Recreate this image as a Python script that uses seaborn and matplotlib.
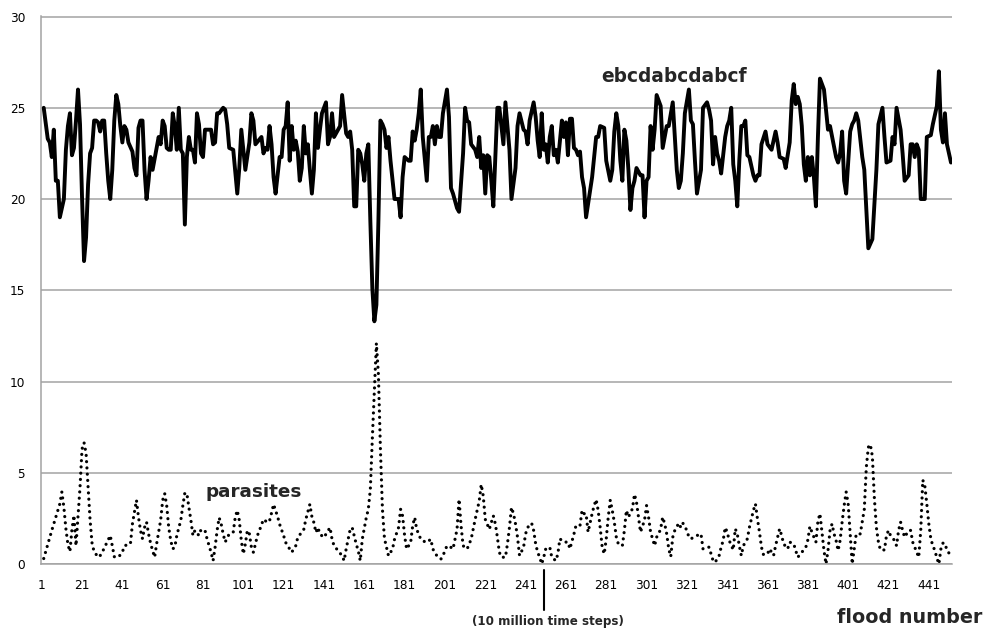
import matplotlib
matplotlib.use("Agg")
import matplotlib.pyplot as plt
import seaborn as sns
import pandas as pd
from matplotlib.transforms import blended_transform_factory

sns.set_style("white")
plt.rcParams['font.family'] = ['DejaVu Sans']

# ---------------- data: series "ebcdabcdabcf" (solid) ----------------
main_flood_a = [2, 4, 5, 6, 7, 8, 9, 10, 11, 12,
                13, 14, 15, 16, 17, 18, 19, 20, 21, 22,
                23, 24, 25, 26, 27, 28, 29, 30, 31, 32,
                33, 34, 35, 36, 37, 38, 39, 40, 41, 42,
                43, 44, 46, 47, 48, 49, 50, 51, 52, 53,
                54, 55, 56, 58, 59, 60, 61, 62, 63, 64,
                65, 66, 67, 68, 69, 70, 71, 72, 73, 74,
                75, 76, 77, 78, 79, 80, 81, 82, 84, 85,
                86, 87, 88, 89, 91, 92, 93, 94, 96, 98,
                99, 100, 101, 102, 104, 105, 106, 107]
main_value_a = [25.0, 23.3, 23.1, 22.3, 23.8, 21.0, 21.0, 19.0, 19.5, 20.0,
                22.7, 24.0, 24.7, 22.4, 22.8, 24.3, 26.0, 24.1, 20.1, 16.6,
                17.9, 20.8, 22.5, 22.8, 24.3, 24.3, 24.2, 23.7, 24.3, 24.3,
                22.5, 21.0, 20.0, 21.6, 24.3, 25.7, 25.2, 24.0, 23.1, 24.0,
                23.8, 23.1, 22.6, 21.7, 21.3, 23.9, 24.3, 24.3, 21.6, 20.0,
                21.0, 22.3, 21.6, 22.8, 23.4, 23.0, 24.3, 24.0, 22.8, 22.7,
                22.7, 24.7, 24.0, 22.7, 25.0, 22.7, 22.5, 18.6, 22.3, 23.4,
                22.7, 22.7, 22.0, 24.7, 24.1, 22.5, 22.3, 23.8, 23.8, 23.8,
                23.0, 23.1, 24.7, 24.7, 25.0, 24.9, 24.1, 22.8, 22.7, 20.3,
                21.7, 23.8, 22.7, 21.6, 23.1, 24.7, 24.3, 23.0]

main_flood_b = [110, 111, 112, 113, 114, 115, 116, 117, 119, 120,
                121, 122, 123, 124, 125, 126, 127, 128, 129, 130,
                131, 132, 133, 134, 135, 136, 137, 138, 139, 140,
                142, 143, 144, 145, 146, 148, 149, 150, 152, 153,
                154, 155, 156, 157, 158, 159, 160, 161, 162, 163,
                164, 165, 166, 167, 168, 169, 170, 171, 172, 173,
                174, 176, 178, 179, 180, 181, 183, 184, 185, 186,
                187, 188, 189, 190, 192, 193, 194, 195, 196, 197,
                198, 199, 200, 202, 203, 204, 205, 207, 208, 210,
                211, 212, 213, 214, 216, 217, 218, 219, 220, 221,
                222, 223, 224, 225, 227, 228]
main_value_b = [23.4, 22.5, 22.8, 22.7, 24.0, 23.0, 21.2, 20.3, 22.3, 22.3,
                23.8, 24.0, 25.3, 22.1, 24.0, 22.7, 23.2, 22.6, 21.0, 21.7,
                24.0, 22.5, 23.0, 21.6, 20.3, 21.6, 24.7, 22.8, 23.8, 24.7,
                25.3, 23.0, 23.4, 24.7, 23.4, 23.8, 24.0, 25.7, 23.6, 23.4,
                23.7, 22.7, 19.6, 19.6, 22.7, 22.5, 21.9, 21.0, 22.5, 23.0,
                18.8, 15.1, 13.3, 14.2, 18.8, 24.3, 24.1, 23.8, 22.8, 23.4,
                22.1, 20.0, 20.0, 19.0, 21.2, 22.3, 22.1, 22.1, 23.7, 23.2,
                23.8, 24.7, 26.0, 23.4, 21.0, 23.4, 23.4, 24.0, 23.0, 24.0,
                23.4, 23.4, 24.7, 26.0, 24.5, 20.6, 20.3, 19.5, 19.3, 22.5,
                25.0, 24.3, 24.2, 23.0, 22.7, 22.3, 23.4, 21.7, 22.4, 20.3,
                22.4, 22.3, 21.0, 19.6, 25.0, 25.0]

main_flood_c = [230, 231, 233, 234, 236, 237, 238, 240, 241, 242,
                243, 245, 246, 247, 248, 249, 250, 251, 252, 253,
                254, 255, 256, 257, 259, 260, 261, 262, 263, 264,
                265, 266, 267, 268, 269, 270, 271, 274, 276, 277,
                278, 280, 281, 283, 284, 285, 286, 287, 288, 289,
                290, 291, 292, 293, 294, 295, 296, 298, 299, 300,
                301, 302, 303, 304, 305, 306, 308, 309, 310, 311,
                312, 314, 315, 316, 317, 318, 319, 320, 322, 323,
                324, 325, 326, 328, 329, 331, 332, 333, 334, 335,
                336, 337, 338, 340, 341, 342]
main_value_c = [23.0, 25.3, 22.7, 20.0, 21.7, 24.0, 24.7, 23.8, 23.7, 23.0,
                24.3, 25.3, 24.5, 23.2, 22.3, 24.7, 22.7, 23.0, 22.0, 23.4,
                24.0, 22.4, 22.7, 22.0, 24.3, 23.4, 24.2, 22.4, 24.4, 24.4,
                22.8, 22.7, 22.4, 22.6, 21.2, 20.6, 19.0, 21.2, 23.4, 23.4,
                24.0, 23.9, 22.1, 21.0, 21.6, 23.7, 24.7, 24.0, 22.1, 21.0,
                23.8, 23.2, 21.6, 19.4, 20.6, 21.0, 21.7, 21.3, 21.3, 19.0,
                21.0, 21.2, 24.0, 22.7, 23.8, 25.7, 25.1, 22.8, 23.4, 24.0,
                24.0, 25.3, 23.4, 21.6, 20.6, 21.0, 22.5, 24.7, 26.0, 24.3,
                24.1, 22.1, 20.3, 21.6, 25.0, 25.3, 24.9, 24.3, 21.9, 23.4,
                22.5, 22.1, 21.4, 23.4, 24.0, 24.3]

main_flood_d = [343, 344, 345, 346, 347, 348, 349, 350, 351, 352,
                354, 355, 356, 357, 358, 360, 361, 363, 365, 366,
                367, 369, 370, 372, 373, 374, 375, 376, 377, 378,
                379, 380, 381, 382, 383, 384, 385, 386, 387, 389,
                390, 391, 392, 395, 396, 397, 398, 399, 400, 402,
                403, 404, 405, 406, 408, 409, 410, 411, 413, 414,
                415, 416, 418, 419, 420, 422, 423, 424, 425, 427,
                428, 429, 431, 432, 433, 434, 435, 436, 437, 438,
                439, 440, 442, 443, 445, 446, 447, 448, 449, 450,
                452]
main_value_d = [25.0, 21.9, 21.0, 19.6, 22.1, 24.0, 24.0, 24.3, 22.4, 22.3,
                21.3, 21.0, 21.3, 21.3, 23.0, 23.7, 23.0, 22.7, 23.7, 23.1,
                22.3, 22.2, 21.7, 23.1, 25.4, 26.3, 25.2, 25.6, 25.2, 24.0,
                21.9, 21.0, 22.3, 21.3, 22.3, 21.2, 19.6, 23.4, 26.6, 26.0,
                24.9, 23.8, 24.0, 22.3, 22.0, 22.5, 23.7, 21.0, 20.3, 23.7,
                24.1, 24.3, 24.7, 24.3, 22.3, 21.6, 19.4, 17.3, 17.8, 19.7,
                21.6, 24.1, 25.0, 23.4, 22.0, 22.1, 23.4, 23.0, 25.0, 23.8,
                22.5, 21.0, 21.3, 23.0, 23.0, 22.3, 23.0, 22.7, 20.0, 20.0,
                20.0, 23.4, 23.5, 24.1, 25.1, 27.0, 23.8, 23.1, 24.7, 23.0,
                22.0]

# ---------------- data: series "parasites" (dotted) ----------------
para_flood_a = [2, 4, 5, 6, 7, 8, 9, 10, 11, 12,
                13, 14, 15, 16, 17, 18, 19, 20, 21, 22,
                23, 24, 25, 26, 27, 29, 30, 31, 33, 35,
                36, 37, 39, 41, 42, 45, 46, 48, 49, 50,
                51, 52, 53, 54, 55, 56, 57, 58, 60, 61,
                62, 63, 64, 65, 66, 67, 68, 70, 71, 72,
                73, 74, 75, 76, 77, 79, 80, 82, 83, 84,
                85, 86, 87, 88, 89, 90, 91, 92, 94, 96,
                97, 98, 99, 100, 101, 102, 103, 104, 105, 106,
                107, 108, 109, 111, 113, 114, 115, 116, 118, 119]
para_value_a = [0.3, 1.07, 1.47, 1.84, 2.2, 2.57, 2.94, 3.3, 3.95, 3.1,
                1.93, 1.07, 0.68, 1.9, 2.67, 1.0, 2.57, 4.2, 6.3, 6.65,
                6.07, 4.2, 2.4, 1.1, 0.68, 0.37, 0.46, 0.64, 1.1, 1.56,
                1.0, 0.4, 0.37, 0.64, 1.0, 1.1, 2.2, 3.5, 2.57, 1.84,
                1.38, 2.0, 2.3, 1.65, 1.14, 0.74, 0.37, 1.1, 2.4, 3.5,
                3.86, 3.2, 2.0, 1.29, 0.83, 0.92, 1.56, 2.4, 3.2, 3.9,
                3.86, 3.1, 2.4, 1.56, 1.84, 1.56, 1.88, 1.84, 1.38, 1.0,
                0.64, 0.18, 0.92, 1.84, 2.54, 2.2, 1.65, 1.2, 1.65, 1.75,
                2.57, 2.94, 2.4, 1.29, 0.55, 1.1, 1.84, 1.65, 0.92, 0.64,
                1.1, 1.56, 1.84, 2.45, 2.27, 2.36, 2.8, 3.27, 2.6, 2.18]

para_flood_b = [121, 122, 124, 125, 127, 128, 131, 132, 134, 135,
                136, 137, 138, 139, 141, 142, 144, 145, 146, 148,
                150, 151, 152, 154, 155, 156, 157, 158, 159, 160,
                162, 163, 164, 165, 166, 167, 168, 169, 170, 171,
                173, 175, 176, 178, 179, 180, 181, 182, 184, 185,
                186, 187, 189, 190, 192, 194, 195, 197, 199, 200,
                202, 204, 205, 207, 208, 209, 210, 212, 214, 216,
                218, 219, 220, 221, 223, 225, 226, 227, 228, 229,
                231, 232, 233, 234, 235, 236, 237, 238, 240, 241,
                242, 244, 245, 246, 247, 248, 249, 250, 251, 253,
                254, 256, 257, 258, 260, 262, 263, 265, 266, 268,
                269, 270, 271, 272, 274, 275, 276, 277, 278, 279]
para_value_b = [1.55, 1.18, 0.82, 0.64, 1.0, 1.45, 1.9, 2.45, 3.27, 2.6,
                2.27, 1.73, 2.0, 1.64, 1.45, 1.64, 2.0, 1.36, 1.0, 0.73,
                0.45, 0.18, 0.82, 1.9, 2.0, 1.55, 1.09, 0.73, 0.18, 1.36,
                2.55, 3.0, 4.1, 6.9, 9.5, 12.1, 10.4, 6.3, 3.0, 1.4,
                0.45, 0.82, 1.36, 2.0, 3.0, 2.64, 1.55, 0.82, 1.18, 2.1,
                2.55, 1.9, 1.36, 1.27, 1.18, 1.36, 0.82, 0.45, 0.27, 0.45,
                1.0, 0.91, 0.82, 1.9, 3.55, 2.1, 1.0, 0.82, 1.36, 2.45,
                3.45, 4.36, 3.73, 2.45, 1.9, 2.64, 2.2, 1.47, 0.64, 0.37,
                0.37, 1.1, 2.0, 3.1, 2.76, 2.2, 1.47, 0.46, 0.92, 1.65,
                2.0, 2.24, 1.84, 1.1, 0.64, 0.37, 0.0, 0.37, 0.83, 0.92,
                0.37, 0.18, 0.55, 1.38, 1.2, 1.2, 0.83, 1.65, 2.11, 2.11,
                2.94, 2.76, 2.76, 1.75, 2.76, 3.2, 3.53, 2.94, 2.0, 0.92]

para_flood_c = [280, 281, 282, 283, 284, 285, 286, 287, 289, 290,
                291, 292, 294, 295, 296, 297, 298, 300, 301, 302,
                303, 305, 306, 307, 308, 309, 310, 311, 312, 313,
                314, 315, 317, 318, 319, 321, 322, 323, 326, 328,
                329, 331, 332, 334, 335, 337, 338, 339, 340, 341,
                342, 344, 345, 346, 347, 348, 349, 351, 352, 353,
                354, 355, 356, 357, 358, 359, 361, 362, 364, 365,
                366, 367, 368, 369, 371, 372, 374, 375, 376, 378,
                380, 381, 382, 383, 385, 386, 387, 388, 389, 390,
                391, 392, 393, 394, 395, 396, 397, 398, 399, 400,
                401, 402, 403, 404, 405, 406, 407, 409, 410, 411,
                412, 413, 414, 415, 416, 417, 419, 420, 421, 422,
                424, 425, 426, 427, 428, 429, 431, 432, 433, 434,
                436, 437, 438, 439, 440, 441, 442, 443, 444, 445,
                446, 447, 448, 449, 450, 452]
para_value_c = [0.55, 1.38, 2.57, 3.5, 2.94, 2.3, 1.47, 1.1, 1.0, 1.84,
                2.94, 2.57, 3.03, 3.82, 3.4, 2.57, 1.75, 2.4, 3.2, 2.57,
                1.75, 1.0, 1.47, 1.65, 1.93, 2.57, 2.2, 1.65, 0.83, 0.4,
                1.47, 1.84, 2.24, 2.0, 2.24, 1.84, 1.47, 1.38, 1.56, 1.65,
                0.83, 0.92, 0.92, 0.18, 0.09, 0.46, 0.92, 1.29, 2.0, 1.75,
                1.29, 0.77, 1.93, 1.65, 1.0, 0.46, 1.0, 1.38, 2.0, 2.48,
                2.94, 3.3, 2.48, 1.75, 0.92, 0.51, 0.55, 0.83, 0.46, 1.0,
                1.47, 1.93, 1.56, 1.1, 0.83, 1.2, 1.1, 0.74, 0.37, 0.64,
                0.92, 1.32, 2.06, 1.75, 1.2, 2.35, 2.76, 1.75, 0.74, 0.0,
                0.74, 1.84, 2.2, 1.65, 1.29, 0.74, 1.29, 2.3, 3.2, 3.95,
                3.3, 1.65, 0.0, 0.83, 1.65, 1.65, 1.65, 3.0, 5.3, 6.4,
                6.55, 5.9, 3.6, 2.0, 1.2, 0.77, 0.77, 1.56, 1.84, 1.56,
                1.29, 1.0, 1.84, 2.3, 1.84, 1.47, 1.84, 1.84, 1.2, 0.92,
                0.37, 1.84, 4.6, 4.3, 3.3, 2.2, 1.38, 1.0, 0.74, 0.33,
                0.0, 0.83, 1.14, 1.14, 0.74, 0.46]

x_tick_values = list(range(1, 442, 20))
y_tick_values = [0, 5, 10, 15, 20, 25, 30]
marker_flood = 250          # "10 million time steps"
main_label = "ebcdabcdabcf"
para_label = "parasites"
x_title = "flood number"
marker_label = "(10 million time steps)"

main_flood = main_flood_a + main_flood_b + main_flood_c + main_flood_d
main_value = main_value_a + main_value_b + main_value_c + main_value_d
para_flood = para_flood_a + para_flood_b + para_flood_c
para_value = para_value_a + para_value_b + para_value_c
assert len(main_flood) == len(main_value)
assert len(para_flood) == len(para_value)

df_main = pd.DataFrame({"flood": main_flood, "value": main_value})
df_para = pd.DataFrame({"flood": para_flood, "value": para_value})

# ---------------- figure ----------------
W, H = 990, 630
fig = plt.figure(figsize=(W / 100, H / 100), dpi=100)
ax = fig.add_axes([41 / W, 1 - 564 / H, (952 - 41) / W, (564 - 16) / H])

grid_col = "#a3a3a3"

sns.lineplot(data=df_main, x="flood", y="value", ax=ax, color="black",
             lw=2.8, errorbar=None, solid_joinstyle="round")
sns.lineplot(data=df_para, x="flood", y="value", ax=ax, color="black",
             lw=2.3, errorbar=None, linestyle=(0, (0.01, 1.95)),
             dash_capstyle="round")

ax.set_xlim(0.65, 452.5)
ax.set_ylim(0, 30.03)
ax.set_xticks(x_tick_values)
ax.set_xticklabels([str(v) for v in x_tick_values])
ax.set_yticks(y_tick_values)
ax.set_yticklabels([str(v) for v in y_tick_values])
ax.set_xlabel("")
ax.set_ylabel("")

ax.grid(axis="y", color=grid_col, lw=1.1)
ax.grid(axis="x", visible=False)
ax.set_axisbelow(True)
for s in ["top", "right"]:
    ax.spines[s].set_visible(False)
for s in ["left", "bottom"]:
    ax.spines[s].set_color(grid_col)
    ax.spines[s].set_linewidth(1.1)

ax.tick_params(axis="y", length=0, pad=11.5, labelsize=8.7, labelcolor="black")
ax.tick_params(axis="x", length=5, width=1.0, color=grid_col, direction="out",
               pad=6, labelsize=8.7, labelcolor="black")

# series labels
ax.text(278.7, 26.44, main_label, ha="left", va="baseline",
        fontsize=13.4, fontweight="bold", family="DejaVu Sans")
ax.text(82.0, 3.68, para_label, ha="left", va="baseline",
        fontsize=13.2, fontweight="bold", family="DejaVu Sans")

# axis title and marker
fig.text(910 / W, 1 - 623 / H, x_title, ha="center", va="baseline",
         fontsize=13.8, fontweight="bold", family="DejaVu Sans")
trans = blended_transform_factory(ax.transData, ax.transAxes)
ax.plot([marker_flood, marker_flood], [-6 / 548, -46 / 548], color="black",
        lw=1.5, transform=trans, clip_on=False)
fig.text(548 / W, 1 - 622 / H, marker_label, ha="center", va="center",
         fontsize=8.6, fontweight="bold", family="DejaVu Sans")

fig.savefig("out.png", dpi=100)
